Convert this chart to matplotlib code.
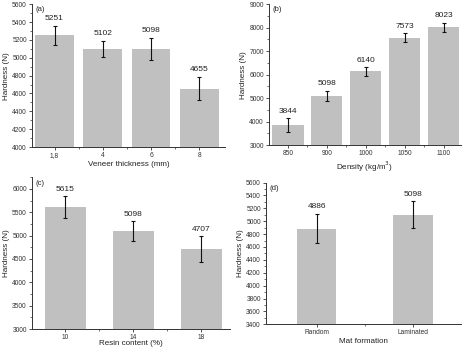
import matplotlib
matplotlib.use("Agg")
import matplotlib.pyplot as plt
from matplotlib.ticker import MultipleLocator, FixedLocator
import numpy as np

plt.rcParams['font.family'] = ['Liberation Sans', 'DejaVu Sans']

# ---- data ----
a_cats = ["1,8", "4", "6", "8"]
a_vals = [5251, 5102, 5098, 4655]
a_err = [108, 92, 125, 133]

b_cats = ["850", "900", "1000", "1050", "1100"]
b_vals = [3844, 5098, 6140, 7573, 8023]
b_err = [290, 226, 177, 191, 184]

c_cats = ["10", "14", "18"]
c_vals = [5615, 5098, 4707]
c_err = [232, 214, 282]

d_cats = ["Random", "Laminated"]
d_vals = [4886, 5098]
d_err = [229, 208]

W, H = 462, 348
fig = plt.figure(figsize=(W / 100, H / 100), dpi=100)

def frac(l, r, t, b):
    return [l / W, 1 - b / H, (r - l) / W, (b - t) / H]

bar_color = "#c0c0c0"
txt = "#222222"

panels = [
    dict(rect=frac(32, 225, 4.3, 147), cats=a_cats, vals=a_vals, err=a_err,
         ylim=(4000, 5600), major=200, minor=100, xlim=(-0.466, 3.53), width=0.8,
         xlabel="Veneer thickness (mm)", tag="(a)", lpad=1.5),
    dict(rect=frac(269, 461, 4.3, 145), cats=b_cats, vals=b_vals, err=b_err,
         ylim=(3000, 9000), major=1000, minor=500, xlim=(-0.49, 4.45), width=0.8,
         xlabel="Density (kg/m$^3$)", tag="(b)", lpad=1.5),
    dict(rect=frac(32, 230, 177.3, 329), cats=c_cats, vals=c_vals, err=c_err,
         ylim=(3000, 6250), major=500, minor=250, xlim=(-0.49, 2.42), width=0.6,
         xlabel="Resin content (%)", tag="(c)", lpad=-0.8),
    dict(rect=frac(266, 461, 182.5, 324.3), cats=d_cats, vals=d_vals, err=d_err,
         ylim=(3400, 5600), major=200, minor=100, xlim=(-0.526, 1.5), width=0.41,
         xlabel="Mat formation", tag="(d)", lpad=1.2),
]

for p in panels:
    ax = fig.add_axes(p["rect"])
    x = np.arange(len(p["cats"]))
    ax.bar(x, p["vals"], width=p["width"], color=bar_color, edgecolor="none", zorder=1)
    ax.errorbar(x, p["vals"], yerr=p["err"], fmt="none", ecolor="#111111",
                elinewidth=0.8, capsize=1.5, capthick=0.8, zorder=3)
    for xi, v, e in zip(x, p["vals"], p["err"]):
        ax.annotate(str(v), (xi, v + e), xytext=(0, 2.5), textcoords="offset points",
                    ha="center", va="bottom", fontsize=6, color=txt)
    ax.set_xlim(*p["xlim"])
    ax.set_ylim(*p["ylim"])
    ax.set_xticks(x)
    ax.set_xticklabels(p["cats"])
    ax.xaxis.set_minor_locator(FixedLocator(x[:-1] + 0.5))
    ax.yaxis.set_major_locator(MultipleLocator(p["major"]))
    ax.yaxis.set_minor_locator(MultipleLocator(p["minor"]))
    for s in ("top", "right"):
        ax.spines[s].set_visible(False)
    for s in ("left", "bottom"):
        ax.spines[s].set_linewidth(0.7)
        ax.spines[s].set_color("#333333")
    ax.tick_params(which="major", direction="out", length=2.5, width=0.6,
                   labelsize=4.8, pad=1.2, colors="#333333")
    ax.tick_params(which="minor", direction="out", length=1.3, width=0.5, colors="#333333")
    ax.set_ylabel("Hardness (N)", fontsize=5.8, color=txt, labelpad=1.5)
    ax.set_xlabel(p["xlabel"], fontsize=5.8, color=txt, labelpad=p["lpad"])
    ax.text(0.02, 0.985, p["tag"], transform=ax.transAxes, ha="left", va="top",
            fontsize=5.5, color=txt)

fig.savefig("out.png", dpi=100)
